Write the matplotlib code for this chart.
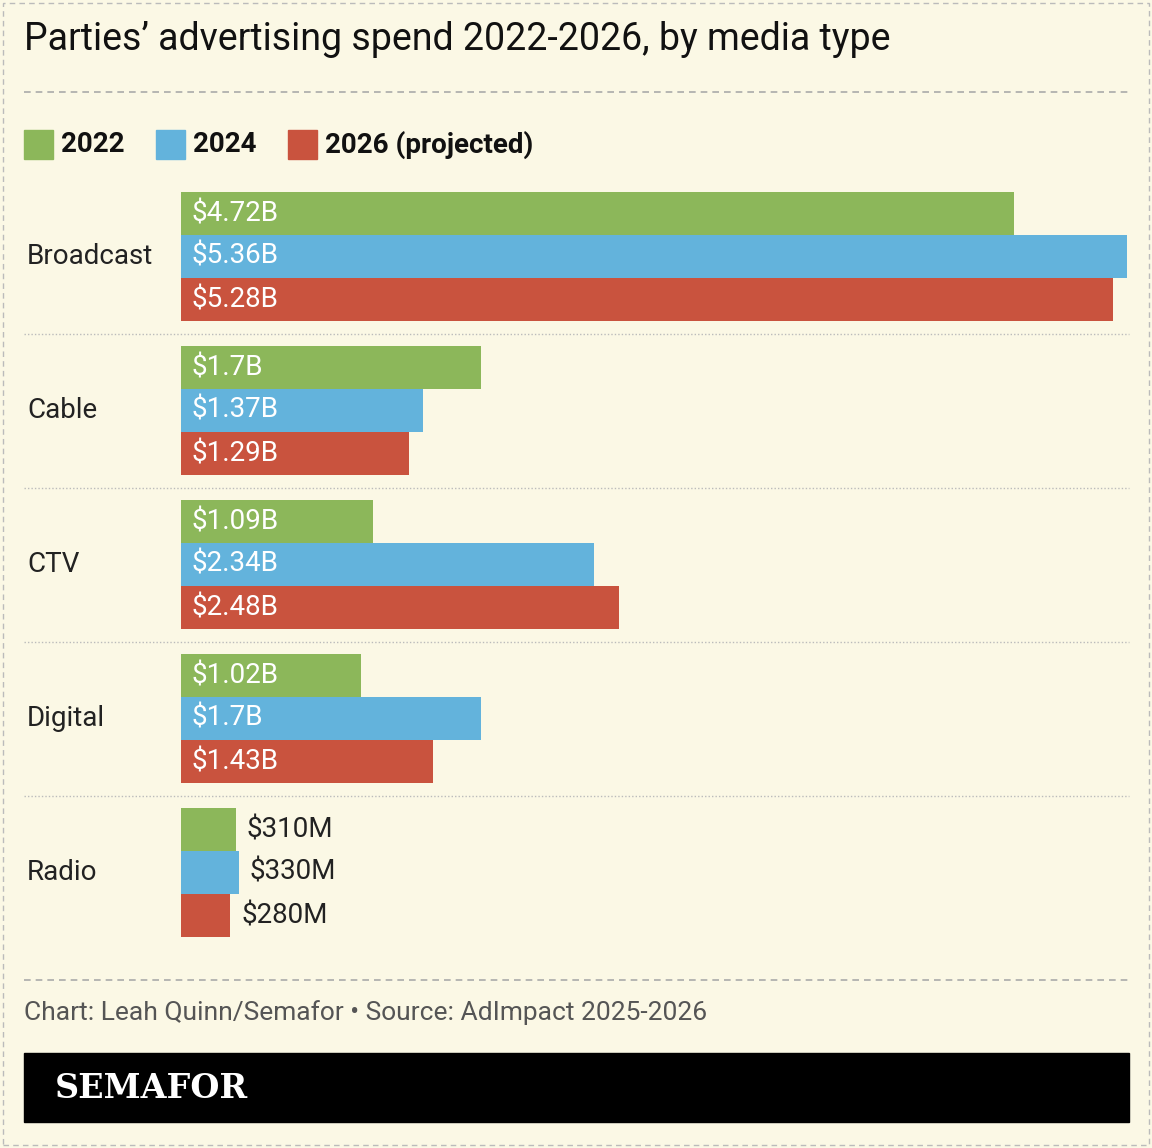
import matplotlib
matplotlib.use("Agg")
import matplotlib.pyplot as plt
import matplotlib.patches as patches
from matplotlib.transforms import blended_transform_factory

categories = ["Broadcast", "Cable", "CTV", "Digital", "Radio"]
years = ["2022", "2024", "2026 (projected)"]
spend_2022 = [4.72, 1.70, 1.09, 1.02, 0.31]
spend_2024 = [5.36, 1.37, 2.34, 1.70, 0.33]
spend_2026 = [5.28, 1.29, 2.48, 1.43, 0.28]
labels_2022 = ["$4.72B", "$1.7B", "$1.09B", "$1.02B", "$310M"]
labels_2024 = ["$5.36B", "$1.37B", "$2.34B", "$1.7B", "$330M"]
labels_2026 = ["$5.28B", "$1.29B", "$2.48B", "$1.43B", "$280M"]

colors = ["#8cb75a", "#63b3dc", "#c9533e"]
bg = "#fbf8e5"
W, H = 1152, 1148

fig = plt.figure(figsize=(W / 100, H / 100), dpi=100, facecolor=bg)
ax = fig.add_axes([181 / W, 1 - 937 / H, 946 / W, 745 / H])
ax.set_facecolor(bg)
ax.set_xlim(0, 5.36)
gap = 154
bh = 43
ax.set_ylim(4 * gap + 1.5 * bh, -1.5 * bh)
ax.axis("off")

font = "Roboto Condensed"
font = ["Liberation Sans Narrow", "Roboto", "DejaVu Sans"]

series = [(spend_2022, labels_2022), (spend_2024, labels_2024), (spend_2026, labels_2026)]
for j, (vals, labs) in enumerate(series):
    for i, (v, lab) in enumerate(zip(vals, labs)):
        y = i * gap + (j - 1) * bh
        ax.barh(y, v, height=bh, color=colors[j])
        if v > 0.5:
            ax.text(0.06, y, lab, color="white", va="center", ha="left", fontsize=20, family="Roboto")
        else:
            ax.text(v + 0.06, y, lab, color="#222222", va="center", ha="left", fontsize=20, family="Roboto")

tr = blended_transform_factory(fig.transFigure, ax.transData)
for i, c in enumerate(categories):
    ax.text(27 / W, i * gap, c, transform=tr, va="center", ha="left", fontsize=20, family="Roboto", color="#222222")
    if i < len(categories) - 1:
        ax.plot([24 / W, 1129 / W], [i * gap + gap / 2] * 2, transform=tr, color="#bbbbbb",
                lw=1, ls=(0, (1, 1.5)), clip_on=False)

fig.text(24 / W, 1 - 40 / H, "Parties\u2019 advertising spend 2022-2026, by media type",
         fontsize=27, family="Roboto", color="#111111", va="center")
for yy in (92, 980):
    fig.add_artist(plt.Line2D([24 / W, 1129 / W], [1 - yy / H] * 2, color="#aaaaaa", lw=1.2, ls=(0, (4, 3))))

# legend
x = 24
for j, y_lab in enumerate(years):
    fig.add_artist(patches.Rectangle((x / W, 1 - 159 / H), 29 / W, 29 / H, color=colors[j], transform=fig.transFigure))
    t = fig.text((x + 37) / W, 1 - 145 / H, y_lab, fontsize=20, fontweight="bold", family="Roboto",
                 color="#111111", va="center")
    x += [132, 132, 0][j]

fig.text(24 / W, 1 - 1013 / H, "Chart: Leah Quinn/Semafor \u2022 Source: AdImpact 2025-2026",
         fontsize=19, family="Roboto", color="#555555", va="center")
fig.add_artist(patches.Rectangle((24 / W, 1 - 1122 / H), 1105 / W, 69 / H, color="black", transform=fig.transFigure))
fig.text(55 / W, 1 - 1088 / H, "SEMAFOR", fontsize=24, fontweight="bold", family="DejaVu Serif",
         color="white", va="center")

fig.add_artist(patches.Rectangle((3 / W, 3 / H), (W - 6) / W, (H - 6) / H, fill=False, ec="#bbbbbb",
                                 lw=1, ls=(0, (4, 3)), transform=fig.transFigure))

fig.savefig("out.png", dpi=100, facecolor=bg)
